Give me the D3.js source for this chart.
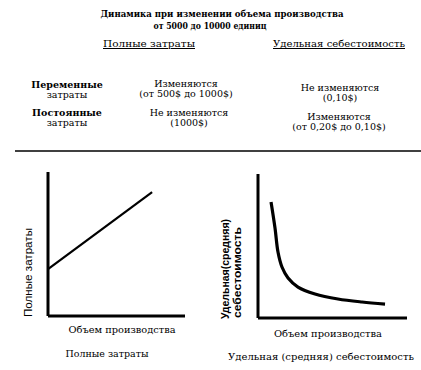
<!DOCTYPE html>
<html><head><meta charset="utf-8">
<script src="https://cdn.jsdelivr.net/npm/d3@7"></script>
<style>body{margin:0;background:#fff}svg{display:block}</style>
</head><body>
<script>
const titleLines = ["Динамика при изменении объема производства", "от 5000 до 10000 единиц"];
const columnHeaders = ["Полные затраты", "Удельная себестоимость"];
const rowHeaders = [["Переменные", "затраты"], ["Постоянные", "затраты"]];
const cellTexts = [
  [["Изменяются", "(от 500$ до 1000$)"], ["Не изменяются", "(0,10$)"]],
  [["Не изменяются", "(1000$)"], ["Изменяются", "(от 0,20$ до 0,10$)"]]
];
// Left chart: total costs vs volume
const totalVolume = [0, 7.6];
const totalCost = [3.26, 8.6];
// Right chart: unit cost vs volume
const unitVolume = [1.05, 1.37, 1.61, 1.93, 2.42, 3.22, 4.59, 6.44, 8.38, 10.23];
const unitCost = [0.806, 0.625, 0.458, 0.354, 0.278, 0.215, 0.167, 0.132, 0.111, 0.097];
const xLabel = "Объем производства";
const leftYLabel = "Полные затраты";
const rightYLabel = ["Удельная(средняя)", "себестоимость"];
const captions = ["Полные затраты", "Удельная (средняя) себестоимость"];

const W = 421, H = 370;
const svg = d3.select("body").append("svg").attr("width", W).attr("height", H);
const serif = "'DejaVu Serif','Liberation Serif',serif";
const sans = "'Liberation Sans',Arial,sans-serif";

// Title
svg.append("text").attr("x", 222).attr("y", 17).attr("text-anchor", "middle")
  .attr("font-family", serif).attr("font-weight", "bold").attr("font-size", 10)
  .attr("textLength", 243).attr("lengthAdjust", "spacingAndGlyphs").text(titleLines[0]);
svg.append("text").attr("x", 210).attr("y", 29).attr("text-anchor", "middle")
  .attr("font-family", serif).attr("font-weight", "bold").attr("font-size", 10)
  .attr("textLength", 113).attr("lengthAdjust", "spacingAndGlyphs").text(titleLines[1]);

// Column headers
const colX = [149, 339];
const colW = [92, 132];
columnHeaders.forEach((t, i) => {
  svg.append("text").attr("x", colX[i]).attr("y", 47).attr("text-anchor", "middle")
    .attr("font-family", serif).attr("font-size", 10).attr("text-decoration", "underline")
    .attr("textLength", colW[i]).attr("lengthAdjust", "spacingAndGlyphs").text(t);
});

// Row headers and cells
const rowY = [[88, 98], [116, 126]];
rowHeaders.forEach((r, i) => {
  svg.append("text").attr("x", 67).attr("y", rowY[i][0]).attr("text-anchor", "middle")
    .attr("font-family", serif).attr("font-weight", "bold").attr("font-size", 9.5).text(r[0]);
  svg.append("text").attr("x", 67).attr("y", rowY[i][1]).attr("text-anchor", "middle")
    .attr("font-family", serif).attr("font-size", 9.5).text(r[1]);
});
const cellX = [[186, 340], [189, 339]];
const cellY = [[[87, 97], [91, 101]], [[116, 126], [120, 130]]];
cellTexts.forEach((row, i) => row.forEach((c, j) => {
  c.forEach((t, k) => {
    svg.append("text").attr("x", cellX[i][j]).attr("y", cellY[i][j][k]).attr("text-anchor", "middle")
      .attr("font-family", serif).attr("font-size", 9.5).text(t);
  });
}));

// Separator
svg.append("line").attr("x1", 15).attr("x2", 421).attr("y1", 151).attr("y2", 151)
  .attr("stroke", "#000").attr("stroke-width", 1.5);

// Left chart
const xL = d3.scaleLinear().domain([0, 10]).range([48, 185]);
const yL = d3.scaleLinear().domain([0, 10]).range([316, 172]);
const gL = svg.append("g");
gL.append("line").attr("x1", xL(0)).attr("x2", xL(0)).attr("y1", yL(0)).attr("y2", yL(10))
  .attr("stroke", "#000").attr("stroke-width", 3);
gL.append("line").attr("x1", xL(0)).attr("x2", xL(10)).attr("y1", yL(0)).attr("y2", yL(0))
  .attr("stroke", "#000").attr("stroke-width", 3);
gL.append("path").datum(totalVolume.map((v, i) => [v, totalCost[i]]))
  .attr("d", d3.line().x(d => xL(d[0])).y(d => yL(d[1])))
  .attr("fill", "none").attr("stroke", "#000").attr("stroke-width", 2.2);
svg.append("text").attr("x", 122).attr("y", 333).attr("text-anchor", "middle")
  .attr("font-family", serif).attr("font-size", 10).attr("textLength", 107)
  .attr("lengthAdjust", "spacingAndGlyphs").text(xLabel);
svg.append("text").attr("transform", "translate(32,317) rotate(-90)")
  .attr("font-family", sans).attr("font-size", 10).attr("textLength", 89)
  .attr("lengthAdjust", "spacingAndGlyphs").text(leftYLabel);
svg.append("text").attr("x", 107).attr("y", 357).attr("text-anchor", "middle")
  .attr("font-family", serif).attr("font-size", 10).attr("textLength", 83)
  .attr("lengthAdjust", "spacingAndGlyphs").text(captions[0]);

// Right chart
const xR = d3.scaleLinear().domain([0, 12]).range([258, 407]);
const yR = d3.scaleLinear().domain([0, 1]).range([318, 174]);
const gR = svg.append("g");
gR.append("line").attr("x1", xR(0)).attr("x2", xR(0)).attr("y1", yR(0)).attr("y2", yR(1))
  .attr("stroke", "#000").attr("stroke-width", 3);
gR.append("line").attr("x1", xR(0)).attr("x2", xR(12)).attr("y1", yR(0)).attr("y2", yR(0))
  .attr("stroke", "#000").attr("stroke-width", 3);
gR.append("path").datum(unitVolume.map((v, i) => [v, unitCost[i]]))
  .attr("d", d3.line().curve(d3.curveCatmullRom.alpha(0.5)).x(d => xR(d[0])).y(d => yR(d[1])))
  .attr("fill", "none").attr("stroke", "#000").attr("stroke-width", 3.2).attr("stroke-linejoin", "round");
svg.append("text").attr("x", 328).attr("y", 337).attr("text-anchor", "middle")
  .attr("font-family", serif).attr("font-size", 10).attr("textLength", 108)
  .attr("lengthAdjust", "spacingAndGlyphs").text(xLabel);
svg.append("text").attr("transform", "translate(229,319) rotate(-90)")
  .attr("font-family", sans).attr("font-size", 10).attr("font-weight", "bold").attr("textLength", 100)
  .attr("lengthAdjust", "spacingAndGlyphs").text(rightYLabel[0]);
svg.append("text").attr("transform", "translate(241,318) rotate(-90)")
  .attr("font-family", sans).attr("font-size", 10).attr("font-weight", "bold").attr("textLength", 91)
  .attr("lengthAdjust", "spacingAndGlyphs").text(rightYLabel[1]);
svg.append("text").attr("x", 321).attr("y", 360).attr("text-anchor", "middle")
  .attr("font-family", serif).attr("font-size", 10).attr("textLength", 186)
  .attr("lengthAdjust", "spacingAndGlyphs").text(captions[1]);
</script>
</body></html>
